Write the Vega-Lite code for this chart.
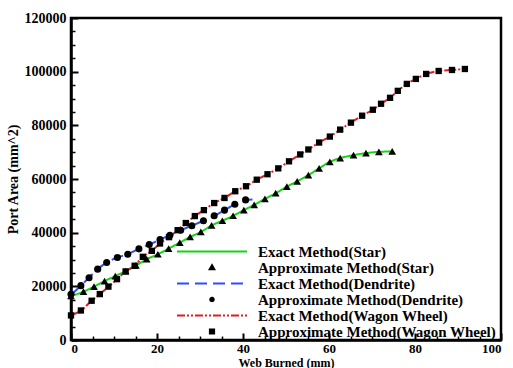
{
  "$schema": "https://vega.github.io/schema/vega-lite/v6.json",
  "width": 430,
  "height": 322,
  "autosize": "none",
  "padding": {"left": 71, "top": 18, "right": 12, "bottom": 28},
  "background": "white",
  "config": {
    "view": {"stroke": "black", "strokeWidth": 2.5},
    "font": "Liberation Serif",
    "axis": {"grid": false, "domainColor": "black", "tickColor": "black", "labelColor": "black", "titleColor": "black", "labelFont": "Liberation Serif", "titleFont": "Liberation Serif", "labelFontWeight": "bold", "titleFontWeight": "bold"}
  },
  "datasets": {
    "exact": [
      {"s": "Exact Method(Star)", "x": 0, "y": 16400}, {"s": "Exact Method(Star)", "x": 2.9, "y": 18030}, {"s": "Exact Method(Star)", "x": 5.35, "y": 19890}, {"s": "Exact Method(Star)", "x": 7.8, "y": 21960}, {"s": "Exact Method(Star)", "x": 10.3, "y": 23810}, {"s": "Exact Method(Star)", "x": 12.7, "y": 25670}, {"s": "Exact Method(Star)", "x": 15.1, "y": 27780}, {"s": "Exact Method(Star)", "x": 17.6, "y": 30110}, {"s": "Exact Method(Star)", "x": 20.2, "y": 31960}, {"s": "Exact Method(Star)", "x": 22.7, "y": 34070}, {"s": "Exact Method(Star)", "x": 25.3, "y": 36300}, {"s": "Exact Method(Star)", "x": 27.7, "y": 38400}, {"s": "Exact Method(Star)", "x": 30.2, "y": 40260}, {"s": "Exact Method(Star)", "x": 32.7, "y": 42700}, {"s": "Exact Method(Star)", "x": 35.2, "y": 44440}, {"s": "Exact Method(Star)", "x": 37.7, "y": 46300}, {"s": "Exact Method(Star)", "x": 40.2, "y": 48400}, {"s": "Exact Method(Star)", "x": 42.6, "y": 50370}, {"s": "Exact Method(Star)", "x": 45.1, "y": 52590}, {"s": "Exact Method(Star)", "x": 47.6, "y": 54700}, {"s": "Exact Method(Star)", "x": 50.2, "y": 57150}, {"s": "Exact Method(Star)", "x": 52.6, "y": 59150}, {"s": "Exact Method(Star)", "x": 55.2, "y": 61480}, {"s": "Exact Method(Star)", "x": 57.7, "y": 63960}, {"s": "Exact Method(Star)", "x": 60.2, "y": 66400}, {"s": "Exact Method(Star)", "x": 62.6, "y": 67780}, {"s": "Exact Method(Star)", "x": 65.7, "y": 68890}, {"s": "Exact Method(Star)", "x": 68.6, "y": 69630}, {"s": "Exact Method(Star)", "x": 71.6, "y": 70110}, {"s": "Exact Method(Star)", "x": 74.7, "y": 70260},
      {"s": "Exact Method(Dendrite)", "x": 0, "y": 16800}, {"s": "Exact Method(Dendrite)", "x": 2.3, "y": 20260}, {"s": "Exact Method(Dendrite)", "x": 4.2, "y": 23220}, {"s": "Exact Method(Dendrite)", "x": 6.2, "y": 26410}, {"s": "Exact Method(Dendrite)", "x": 8.3, "y": 28890}, {"s": "Exact Method(Dendrite)", "x": 10.8, "y": 30740}, {"s": "Exact Method(Dendrite)", "x": 13.2, "y": 31960}, {"s": "Exact Method(Dendrite)", "x": 15.8, "y": 33960}, {"s": "Exact Method(Dendrite)", "x": 18.2, "y": 35560}, {"s": "Exact Method(Dendrite)", "x": 20.7, "y": 37410}, {"s": "Exact Method(Dendrite)", "x": 23.0, "y": 39070}, {"s": "Exact Method(Dendrite)", "x": 25.5, "y": 40930}, {"s": "Exact Method(Dendrite)", "x": 28.1, "y": 42600}, {"s": "Exact Method(Dendrite)", "x": 30.8, "y": 44440}, {"s": "Exact Method(Dendrite)", "x": 33.3, "y": 46300}, {"s": "Exact Method(Dendrite)", "x": 35.7, "y": 48400}, {"s": "Exact Method(Dendrite)", "x": 38.1, "y": 50620}, {"s": "Exact Method(Dendrite)", "x": 40.6, "y": 52220}, {"s": "Exact Method(Dendrite)", "x": 42.2, "y": 52400},
      {"s": "Exact Method(Wagon Wheel)", "x": 0, "y": 9150}, {"s": "Exact Method(Wagon Wheel)", "x": 2.3, "y": 11000}, {"s": "Exact Method(Wagon Wheel)", "x": 4.8, "y": 14630}, {"s": "Exact Method(Wagon Wheel)", "x": 6.7, "y": 17110}, {"s": "Exact Method(Wagon Wheel)", "x": 8.7, "y": 19890}, {"s": "Exact Method(Wagon Wheel)", "x": 10.7, "y": 22670}, {"s": "Exact Method(Wagon Wheel)", "x": 12.7, "y": 25560}, {"s": "Exact Method(Wagon Wheel)", "x": 14.8, "y": 27670}, {"s": "Exact Method(Wagon Wheel)", "x": 16.7, "y": 31000}, {"s": "Exact Method(Wagon Wheel)", "x": 18.8, "y": 33220}, {"s": "Exact Method(Wagon Wheel)", "x": 20.7, "y": 35960}, {"s": "Exact Method(Wagon Wheel)", "x": 22.8, "y": 38330}, {"s": "Exact Method(Wagon Wheel)", "x": 24.8, "y": 40930}, {"s": "Exact Method(Wagon Wheel)", "x": 26.7, "y": 43590}, {"s": "Exact Method(Wagon Wheel)", "x": 28.8, "y": 46180}, {"s": "Exact Method(Wagon Wheel)", "x": 30.9, "y": 48400}, {"s": "Exact Method(Wagon Wheel)", "x": 33.3, "y": 51040}, {"s": "Exact Method(Wagon Wheel)", "x": 35.7, "y": 52930}, {"s": "Exact Method(Wagon Wheel)", "x": 38.2, "y": 55440}, {"s": "Exact Method(Wagon Wheel)", "x": 40.7, "y": 57300}, {"s": "Exact Method(Wagon Wheel)", "x": 43.2, "y": 59740}, {"s": "Exact Method(Wagon Wheel)", "x": 45.7, "y": 61780}, {"s": "Exact Method(Wagon Wheel)", "x": 48.2, "y": 63960}, {"s": "Exact Method(Wagon Wheel)", "x": 50.7, "y": 66590}, {"s": "Exact Method(Wagon Wheel)", "x": 53.3, "y": 69150}, {"s": "Exact Method(Wagon Wheel)", "x": 55.2, "y": 71000}, {"s": "Exact Method(Wagon Wheel)", "x": 57.7, "y": 73590}, {"s": "Exact Method(Wagon Wheel)", "x": 60.2, "y": 75810}, {"s": "Exact Method(Wagon Wheel)", "x": 62.6, "y": 78400}, {"s": "Exact Method(Wagon Wheel)", "x": 65.1, "y": 81000}, {"s": "Exact Method(Wagon Wheel)", "x": 67.7, "y": 83590}, {"s": "Exact Method(Wagon Wheel)", "x": 70.2, "y": 85810}, {"s": "Exact Method(Wagon Wheel)", "x": 72.1, "y": 88040}, {"s": "Exact Method(Wagon Wheel)", "x": 74.2, "y": 90260}, {"s": "Exact Method(Wagon Wheel)", "x": 76.0, "y": 92850}, {"s": "Exact Method(Wagon Wheel)", "x": 78.1, "y": 95440}, {"s": "Exact Method(Wagon Wheel)", "x": 80.2, "y": 97300}, {"s": "Exact Method(Wagon Wheel)", "x": 82.6, "y": 99150}, {"s": "Exact Method(Wagon Wheel)", "x": 85.5, "y": 100260}, {"s": "Exact Method(Wagon Wheel)", "x": 88.6, "y": 100630}, {"s": "Exact Method(Wagon Wheel)", "x": 91.6, "y": 101000}
    ],
    "approx": [
      {"s": "Approximate Method(Star)", "x": 0, "y": 16400}, {"s": "Approximate Method(Star)", "x": 2.9, "y": 18030}, {"s": "Approximate Method(Star)", "x": 5.35, "y": 19890}, {"s": "Approximate Method(Star)", "x": 7.8, "y": 21960}, {"s": "Approximate Method(Star)", "x": 10.3, "y": 23810}, {"s": "Approximate Method(Star)", "x": 12.7, "y": 25670}, {"s": "Approximate Method(Star)", "x": 15.1, "y": 27780}, {"s": "Approximate Method(Star)", "x": 17.6, "y": 30110}, {"s": "Approximate Method(Star)", "x": 20.2, "y": 31960}, {"s": "Approximate Method(Star)", "x": 22.7, "y": 34070}, {"s": "Approximate Method(Star)", "x": 25.3, "y": 36300}, {"s": "Approximate Method(Star)", "x": 27.7, "y": 38400}, {"s": "Approximate Method(Star)", "x": 30.2, "y": 40260}, {"s": "Approximate Method(Star)", "x": 32.7, "y": 42700}, {"s": "Approximate Method(Star)", "x": 35.2, "y": 44440}, {"s": "Approximate Method(Star)", "x": 37.7, "y": 46300}, {"s": "Approximate Method(Star)", "x": 40.2, "y": 48400}, {"s": "Approximate Method(Star)", "x": 42.6, "y": 50370}, {"s": "Approximate Method(Star)", "x": 45.1, "y": 52590}, {"s": "Approximate Method(Star)", "x": 47.6, "y": 54700}, {"s": "Approximate Method(Star)", "x": 50.2, "y": 57150}, {"s": "Approximate Method(Star)", "x": 52.6, "y": 59150}, {"s": "Approximate Method(Star)", "x": 55.2, "y": 61480}, {"s": "Approximate Method(Star)", "x": 57.7, "y": 63960}, {"s": "Approximate Method(Star)", "x": 60.2, "y": 66400}, {"s": "Approximate Method(Star)", "x": 62.6, "y": 67780}, {"s": "Approximate Method(Star)", "x": 65.7, "y": 68890}, {"s": "Approximate Method(Star)", "x": 68.6, "y": 69630}, {"s": "Approximate Method(Star)", "x": 71.6, "y": 70110}, {"s": "Approximate Method(Star)", "x": 74.7, "y": 70260},
      {"s": "Approximate Method(Dendrite)", "x": 0, "y": 17040}, {"s": "Approximate Method(Dendrite)", "x": 2.3, "y": 20260}, {"s": "Approximate Method(Dendrite)", "x": 4.2, "y": 23220}, {"s": "Approximate Method(Dendrite)", "x": 6.2, "y": 26410}, {"s": "Approximate Method(Dendrite)", "x": 8.3, "y": 28890}, {"s": "Approximate Method(Dendrite)", "x": 10.8, "y": 30740}, {"s": "Approximate Method(Dendrite)", "x": 13.2, "y": 31960}, {"s": "Approximate Method(Dendrite)", "x": 15.8, "y": 33960}, {"s": "Approximate Method(Dendrite)", "x": 18.2, "y": 35560}, {"s": "Approximate Method(Dendrite)", "x": 20.7, "y": 37410}, {"s": "Approximate Method(Dendrite)", "x": 23.0, "y": 39070}, {"s": "Approximate Method(Dendrite)", "x": 25.5, "y": 40930}, {"s": "Approximate Method(Dendrite)", "x": 28.1, "y": 42600}, {"s": "Approximate Method(Dendrite)", "x": 30.8, "y": 44440}, {"s": "Approximate Method(Dendrite)", "x": 33.3, "y": 46300}, {"s": "Approximate Method(Dendrite)", "x": 35.7, "y": 48400}, {"s": "Approximate Method(Dendrite)", "x": 38.1, "y": 50620}, {"s": "Approximate Method(Dendrite)", "x": 40.6, "y": 52220},
      {"s": "Approximate Method(Wagon Wheel)", "x": 0, "y": 9150}, {"s": "Approximate Method(Wagon Wheel)", "x": 2.3, "y": 11000}, {"s": "Approximate Method(Wagon Wheel)", "x": 4.8, "y": 14630}, {"s": "Approximate Method(Wagon Wheel)", "x": 6.7, "y": 17110}, {"s": "Approximate Method(Wagon Wheel)", "x": 8.7, "y": 19890}, {"s": "Approximate Method(Wagon Wheel)", "x": 10.7, "y": 22670}, {"s": "Approximate Method(Wagon Wheel)", "x": 12.7, "y": 25560}, {"s": "Approximate Method(Wagon Wheel)", "x": 14.8, "y": 27670}, {"s": "Approximate Method(Wagon Wheel)", "x": 16.7, "y": 31000}, {"s": "Approximate Method(Wagon Wheel)", "x": 18.8, "y": 33220}, {"s": "Approximate Method(Wagon Wheel)", "x": 20.7, "y": 35960}, {"s": "Approximate Method(Wagon Wheel)", "x": 22.8, "y": 38330}, {"s": "Approximate Method(Wagon Wheel)", "x": 24.8, "y": 40930}, {"s": "Approximate Method(Wagon Wheel)", "x": 26.7, "y": 43590}, {"s": "Approximate Method(Wagon Wheel)", "x": 28.8, "y": 46180}, {"s": "Approximate Method(Wagon Wheel)", "x": 30.9, "y": 48400}, {"s": "Approximate Method(Wagon Wheel)", "x": 33.3, "y": 51040}, {"s": "Approximate Method(Wagon Wheel)", "x": 35.7, "y": 52930}, {"s": "Approximate Method(Wagon Wheel)", "x": 38.2, "y": 55440}, {"s": "Approximate Method(Wagon Wheel)", "x": 40.7, "y": 57300}, {"s": "Approximate Method(Wagon Wheel)", "x": 43.2, "y": 59740}, {"s": "Approximate Method(Wagon Wheel)", "x": 45.7, "y": 61780}, {"s": "Approximate Method(Wagon Wheel)", "x": 48.2, "y": 63960}, {"s": "Approximate Method(Wagon Wheel)", "x": 50.7, "y": 66590}, {"s": "Approximate Method(Wagon Wheel)", "x": 53.3, "y": 69150}, {"s": "Approximate Method(Wagon Wheel)", "x": 55.2, "y": 71000}, {"s": "Approximate Method(Wagon Wheel)", "x": 57.7, "y": 73590}, {"s": "Approximate Method(Wagon Wheel)", "x": 60.2, "y": 75810}, {"s": "Approximate Method(Wagon Wheel)", "x": 62.6, "y": 78400}, {"s": "Approximate Method(Wagon Wheel)", "x": 65.1, "y": 81000}, {"s": "Approximate Method(Wagon Wheel)", "x": 67.7, "y": 83590}, {"s": "Approximate Method(Wagon Wheel)", "x": 70.2, "y": 85810}, {"s": "Approximate Method(Wagon Wheel)", "x": 72.1, "y": 88040}, {"s": "Approximate Method(Wagon Wheel)", "x": 74.2, "y": 90260}, {"s": "Approximate Method(Wagon Wheel)", "x": 76.0, "y": 92850}, {"s": "Approximate Method(Wagon Wheel)", "x": 78.1, "y": 95440}, {"s": "Approximate Method(Wagon Wheel)", "x": 80.2, "y": 97300}, {"s": "Approximate Method(Wagon Wheel)", "x": 82.6, "y": 99150}, {"s": "Approximate Method(Wagon Wheel)", "x": 85.5, "y": 100260}, {"s": "Approximate Method(Wagon Wheel)", "x": 88.6, "y": 100630}, {"s": "Approximate Method(Wagon Wheel)", "x": 91.6, "y": 101000}
    ]
  },
  "resolve": {"axis": {"x": "independent", "y": "independent"}},
  "layer": [
    {
      "data": {"name": "exact"},
      "mark": {"type": "point", "opacity": 0},
      "encoding": {
        "x": {"field": "x", "type": "quantitative", "scale": {"domain": [0, 100], "nice": false},
          "axis": {"orient": "bottom", "values": [5, 10, 15, 25, 30, 35, 45, 50, 55, 65, 70, 75, 85, 90, 95], "labels": false, "domain": false, "title": null, "tickSize": -4, "tickWidth": 1.5}},
        "y": {"field": "y", "type": "quantitative", "scale": {"domain": [0, 120000], "nice": false},
          "axis": {"orient": "left", "values": [5000, 10000, 15000, 25000, 30000, 35000, 45000, 50000, 55000, 65000, 70000, 75000, 85000, 90000, 95000, 105000, 110000, 115000], "labels": false, "domain": false, "title": null, "tickSize": -4, "tickWidth": 1.5}}
      }
    },
    {
      "data": {"name": "exact"},
      "mark": {"type": "line", "interpolate": "monotone", "strokeWidth": 2},
      "encoding": {
        "x": {"field": "x", "type": "quantitative",
          "axis": {"orient": "bottom", "values": [0, 20, 40, 60, 80, 100], "tickSize": -7, "tickWidth": 2, "domainWidth": 2.5, "labelFontSize": 13, "labelPadding": 9, "title": "Web Burned (mm)", "titleFontSize": 12, "titlePadding": 2}},
        "y": {"field": "y", "type": "quantitative",
          "axis": {"orient": "left", "values": [0, 20000, 40000, 60000, 80000, 100000, 120000], "format": "d", "tickSize": -7, "tickWidth": 2, "domainWidth": 2.5, "labelFontSize": 14, "labelPadding": 12, "title": "Port Area (mm^2)", "titleFontSize": 14, "titlePadding": 4}},
        "color": {"field": "s", "type": "nominal",
          "scale": {"domain": ["Exact Method(Star)", "Approximate Method(Star)", "Exact Method(Dendrite)", "Approximate Method(Dendrite)", "Exact Method(Wagon Wheel)", "Approximate Method(Wagon Wheel)"],
                    "range": ["#14d214", "black", "#2f4cff", "black", "#dd1f1f", "black"]},
          "legend": {"title": null, "orient": "none", "legendX": 105, "legendY": 226, "columns": 1, "padding": 0, "rowPadding": 0, "clipHeight": 15,
            "symbolSize": 4900, "symbolType": "stroke", "symbolStrokeWidth": 2, "labelOffset": 10,
            "labelFont": "Liberation Serif", "labelFontWeight": "bold", "labelFontSize": 15, "labelColor": "black", "labelLimit": 400,
            "encode": {"symbols": {"update": {
              "shape": {"signal": "indexof(datum.value,'Exact')==0 ? 'stroke' : indexof(datum.value,'Star')>0 ? 'M0,-0.065L0.065,0.05L-0.065,0.05Z' : indexof(datum.value,'Dendrite')>0 ? 'M-0.05,0A0.05,0.05,0,1,1,0.05,0A0.05,0.05,0,1,1,-0.05,0Z' : 'M-0.06,-0.06H0.06V0.06H-0.06Z'"},
              "fill": {"signal": "indexof(datum.value,'Exact')==0 ? 'transparent' : 'black'"},
              "stroke": {"signal": "datum.value=='Exact Method(Star)' ? '#14d214' : datum.value=='Exact Method(Dendrite)' ? '#2f4cff' : datum.value=='Exact Method(Wagon Wheel)' ? '#dd1f1f' : 'transparent'"},
              "strokeDash": {"signal": "datum.value=='Exact Method(Dendrite)' ? [12,6] : datum.value=='Exact Method(Wagon Wheel)' ? [8,2,2,2,2,2] : [1,0]"},
              "opacity": {"value": 1}
            }}}}},
        "strokeDash": {"field": "s", "type": "nominal",
          "scale": {"domain": ["Exact Method(Star)", "Exact Method(Dendrite)", "Exact Method(Wagon Wheel)"], "range": [[1, 0], [12, 6], [8, 2, 2, 2, 2, 2]]},
          "legend": null}
      }
    },
    {
      "data": {"name": "approx"},
      "mark": {"type": "point", "filled": true, "opacity": 1, "strokeWidth": 0},
      "encoding": {
        "x": {"field": "x", "type": "quantitative", "axis": null},
        "y": {"field": "y", "type": "quantitative", "axis": null},
        "color": {"field": "s", "type": "nominal"},
        "shape": {"field": "s", "type": "nominal",
          "scale": {"domain": ["Approximate Method(Star)", "Approximate Method(Dendrite)", "Approximate Method(Wagon Wheel)"], "range": ["triangle-up", "circle", "square"]},
          "legend": null},
        "size": {"field": "s", "type": "nominal",
          "scale": {"domain": ["Approximate Method(Star)", "Approximate Method(Dendrite)", "Approximate Method(Wagon Wheel)"], "range": [60, 40, 64]},
          "legend": null}
      }
    }
  ]
}
